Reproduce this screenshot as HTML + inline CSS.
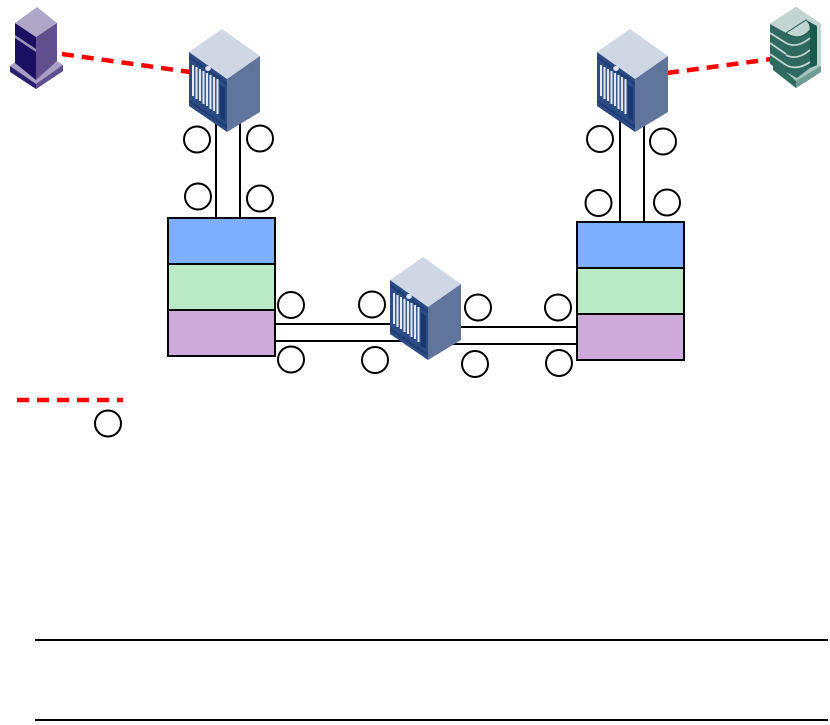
<!DOCTYPE html>
<html><head><meta charset="utf-8"><style>html,body{margin:0;padding:0;background:#fff}svg{display:block}</style></head>
<body>
<svg width="830" height="725" viewBox="0 0 830 725" xmlns="http://www.w3.org/2000/svg">
<defs>
<g id="srv">
<polygon points="33,0 71,27 38,50 0,23" fill="#d0d7e4"/>
<polygon points="71,27 71,83 38,103 38,50" fill="#60759c"/>
<polygon points="0,23 38,50 38,103 0,77" fill="#2b4b84"/>
<polygon points="0,27 38,54 38,56 0,29" fill="#1f3b70"/>
<polygon points="0,71 38,97 38,99 0,73" fill="#1f3b70"/>
<polygon points="3,36 29,51 29,85 3,67" fill="#3a5a90"/>
<g stroke="#e4e8f0" stroke-width="2" fill="none">
<line x1="4" y1="36" x2="4" y2="67"/><line x1="7.500" y1="38" x2="7.500" y2="70"/>
<line x1="11" y1="40" x2="11" y2="72"/><line x1="14.500" y1="42" x2="14.500" y2="75"/>
<line x1="18" y1="44" x2="18" y2="77"/><line x1="21.500" y1="46" x2="21.500" y2="80"/>
<line x1="25" y1="48" x2="25" y2="82"/><line x1="28.500" y1="50" x2="28.500" y2="85"/>
</g>
<ellipse cx="19" cy="39.500" rx="2.800" ry="2.500" fill="#dfe4ee"/>
<polygon points="31,56 36,59 36,92 31,89" fill="#1b3770"/>
</g>
</defs>

<g stroke="#000" stroke-width="2" fill="none">
<line x1="216" y1="120" x2="216" y2="218"/><line x1="240" y1="120" x2="240" y2="218"/>
<line x1="620" y1="118" x2="620" y2="222"/><line x1="644" y1="118" x2="644" y2="222"/>
<line x1="275" y1="324" x2="395" y2="324"/><line x1="275" y1="341" x2="405" y2="341"/>
<line x1="455" y1="327" x2="577" y2="327"/><line x1="445" y1="344" x2="577" y2="344"/>
<line x1="35" y1="640" x2="828" y2="640"/><line x1="35" y1="720" x2="828" y2="720"/>
</g>

<g stroke="#000" stroke-width="2">
<rect x="168" y="218" width="107" height="46" fill="#7eaeff"/>
<rect x="168" y="264" width="107" height="46" fill="#b9e9c5"/>
<rect x="168" y="310" width="107" height="46" fill="#cdaad9"/>
<rect x="577" y="222" width="107" height="46" fill="#7eaeff"/>
<rect x="577" y="268" width="107" height="46" fill="#b9e9c5"/>
<rect x="577" y="314" width="107" height="46" fill="#cdaad9"/>
</g>

<g stroke="#f00" stroke-width="4.500" fill="none" stroke-dasharray="12 8">
<line x1="62" y1="54" x2="190" y2="72"/>
<line x1="667" y1="73" x2="772" y2="59"/>
<line x1="17" y1="400" x2="123" y2="400"/>
</g>

<!-- PC tower -->
<polygon points="10,66 36,83 63,65 63,71 36,89 10,72" fill="#2a1f70"/>
<polygon points="36,83 63,65 63,71 36,89" fill="#5d4f90"/>
<polygon points="10,66 15,62 36,77 57,61 63,65 36,84" fill="#a79fc4"/>
<polygon points="37,7 57,23 36,37 15,23" fill="#aea7c8"/>
<polygon points="15,23 36,37 36,80 15,63" fill="#1a0f60"/>
<polygon points="36,37 57,23 57,61 36,80" fill="#5f5190"/>
<polygon points="15,35 36,49 36,52 15,38" fill="#9c94bc"/>

<!-- Storage -->
<polygon points="796,7 821,24 821,72 796,88 773,70 773,66 770,64 770,24" fill="#2e6a60"/>
<polygon points="796,7 821,24 817,27 806,20 786,33 770,24" fill="#c3d5d1"/>
<polygon points="817,26 821,24 821,66 817,66" fill="#c3d5d1"/>
<polygon points="806,20 817,26 817,66 810,67 810,30" fill="#175a4e"/>
<polygon points="786,72 797,78 810,68 817,65 821,66 797,82" fill="#a9c4be"/>
<polygon points="796,81 821,66 821,72 796,88" fill="#6f9d95"/>
<path d="M786,33 L806,20 Q811,24 810,30 Q800,42 786,33 Z" fill="#c3d5d1" stroke="#1d5a50" stroke-width="1"/>
<g stroke="#c3d5d1" stroke-width="1.800" fill="none">
<path d="M786,43 Q797,49 810,38"/><path d="M786,55 Q797,61 810,50"/><path d="M786,65 Q797,71 810,62"/>
<path d="M770,33 L786,43"/><path d="M770,43 L786,54"/><path d="M770,54 L786,65"/>
</g>

<use href="#srv" x="189" y="29"/>
<use href="#srv" x="597" y="29"/>
<use href="#srv" x="390" y="257"/>

<g fill="#fff" stroke="#000" stroke-width="2">
<circle cx="197" cy="139.500" r="13"/><circle cx="260" cy="138.500" r="13"/>
<circle cx="198" cy="196.500" r="13"/><circle cx="260" cy="198.500" r="13"/>
<circle cx="600" cy="139" r="13"/><circle cx="663" cy="141.500" r="13"/>
<circle cx="598.500" cy="203" r="13"/><circle cx="667" cy="202.500" r="13"/>
<circle cx="291" cy="305" r="13"/><circle cx="372" cy="304.500" r="13"/>
<circle cx="291" cy="359.500" r="13"/><circle cx="375" cy="360" r="13"/>
<circle cx="478" cy="307.500" r="13"/><circle cx="558" cy="307.500" r="13"/>
<circle cx="475" cy="364" r="13"/><circle cx="559" cy="363" r="13"/>
<circle cx="108" cy="423.500" r="13"/>
</g>
</svg>
</body></html>
